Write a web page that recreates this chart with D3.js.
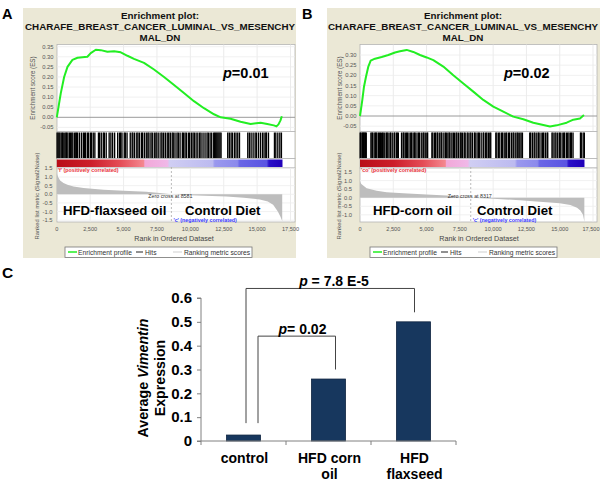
<!DOCTYPE html>
<html><head><meta charset="utf-8">
<script src="https://cdn.jsdelivr.net/npm/d3@7"></script>
<style>
body{margin:0;background:#fff}
svg{display:block}
text{font-family:"Liberation Sans",Arial,Helvetica,sans-serif}
</style>
</head><body>
<svg id="c" width="600" height="485"></svg>
<script>
// ---------------- DATA ----------------
const geneSetTitle = ["Enrichment plot:", "CHARAFE_BREAST_CANCER_LUMINAL_VS_MESENCHY", "MAL_DN"];
const rankTicks = [0, 2500, 5000, 7500, 10000, 12500, 15000, 17500];

// Panel A : HFD-flaxseed oil vs Control Diet
const esRankA = [0,175,300,550,800,1170,1550,1920,2290,2540,2920,3290,3790,4290,4790,5290,5780,6530,7280,8030,8780,9520,10270,11020,11770,12270,13010,13760,14510,15260,15760,16250,16450,16600,16750,16850];
const esValA  = [0,0.07,0.12,0.20,0.25,0.285,0.295,0.298,0.300,0.318,0.335,0.333,0.325,0.327,0.322,0.305,0.29,0.27,0.237,0.20,0.16,0.12,0.08,0.045,0.015,0.0,-0.007,-0.022,-0.033,-0.027,-0.033,-0.04,-0.045,-0.035,-0.015,0.005];
const hitsA = [20,90,160,230,330,420,480,600,680,740,830,950,1030,1120,1200,1330,1420,1480,1560,1700,1850,1990,2080,2160,2300,2380,2520,2600,2730,2850,3120,3200,3330,3480,3560,3700,3920,4050,4180,4330,4560,4700,4780,4880,5050,5130,5260,5500,5640,5700,5830,5990,6080,6200,6350,6420,6560,6700,6820,6900,7050,7150,7300,7420,7500,7640,7800,7880,8000,8130,8270,8380,8500,8640,8720,8850,9000,9100,9230,9400,9480,9600,9700,9850,9950,10080,10200,10300,10430,10560,10700,10800,10950,11100,11250,11350,11480,11600,11750,11820,11900,11980,12060,12140,12220,12300,12800,12920,13050,13150,13300,13420,13550,13680,14300,14420,14550,14700,14850,14950,15100,15250,15400,15520,15650,15700,15850,16300,16400,16550,16700,16820];
const metricRankA = [0,100,250,500,800,1250,2000,3500,5000,6700,7700,8581,10000,12700,14000,15200,15800,16200,16550,16750,16880];
const metricValA  = [1.2,1.0,0.8,0.65,0.55,0.45,0.36,0.26,0.2,0.15,0.07,0,-0.06,-0.13,-0.2,-0.3,-0.42,-0.6,-1.0,-1.3,-1.55];
const esTicksA = [-0.05,0,0.05,0.10,0.15,0.20,0.25,0.30,0.35];
const metricTicksA = [-1.5,-1.0,-0.5,0,0.5,1.0,1.5];
const genesA = 16900, zeroCrossA = 8581, pA = "0.01";

// Panel B : HFD-corn oil vs Control Diet
const esRankB = [0,175,300,450,626,801,1127,1628,2128,2629,3004,3505,4005,4506,5007,5507,6258,7009,7760,8511,9262,10013,10764,11515,12266,13017,13768,14269,14770,15521,16021,16522,16822];
const esValB  = [0,0.079,0.144,0.193,0.243,0.272,0.282,0.29,0.30,0.312,0.318,0.325,0.315,0.30,0.288,0.275,0.243,0.20,0.16,0.12,0.079,0.046,0.021,-0.003,-0.016,-0.033,-0.044,-0.052,-0.046,-0.033,-0.018,-0.012,0.005];
const hitsB = [10,60,150,200,260,300,360,410,470,820,900,940,1060,1150,1200,1260,1380,1450,1530,1600,1700,1740,1860,1980,2040,2110,2250,2300,2420,2560,2610,2740,2800,2880,3120,3240,3290,3400,3500,3560,3680,3810,3870,3990,4100,4140,4280,4400,4460,4600,4730,4790,4900,5020,5080,5400,5470,5600,5680,5800,5850,5990,6100,6150,6300,6420,6480,6600,6700,6760,6900,7010,7100,7220,7280,7400,7530,7600,7700,7830,7900,8050,8120,8260,8330,8450,8600,8650,8790,8900,8960,9100,9250,9300,9440,9520,9640,9750,9820,10200,10280,10410,10500,10640,10700,10830,10950,11020,11160,11240,11380,11500,11560,11700,11810,11880,12000,12100,12200,12750,12820,12950,13080,13140,13280,13400,13450,13600,13720,13790,13920,14050,14100,14420,14500,14640,14720,14850,14980,15040,15180,15300,15360,15500,15600,15700,15820,15880,16000,16560,16620,16760,16850];
const metricRankB = [0,100,500,1250,2000,3250,5000,6500,7500,8317,10000,12000,13750,15000,15800,16300,16550,16750,16850];
const metricValB  = [0.95,0.8,0.55,0.4,0.32,0.26,0.18,0.13,0.06,0,-0.06,-0.15,-0.25,-0.33,-0.42,-0.58,-0.75,-1.0,-1.4];
const esTicksB = [-0.05,0,0.05,0.10,0.15,0.20,0.25,0.30];
const metricTicksB = [-1.0,-0.5,0,0.5,1.0,1.5];
const genesB = 16860, zeroCrossB = 8317, pB = "0.02";

// Panel C : bar chart
const barCats = ["control", "HFD corn oil", "HFD flaxseed"];
const barLines = [["control"], ["HFD corn", "oil"], ["HFD", "flaxseed"]];
const barVals = [0.025, 0.26, 0.50];
const barTicks = [0, 0.1, 0.2, 0.3, 0.4, 0.5, 0.6];

// ---------------- DRAW ----------------
const svg = d3.select("#c");
const fmtES = d => (d < 0 ? "-" : "") + Math.abs(d).toFixed(2);
const fmtRM = d => (d < 0 ? "-" : "") + Math.abs(d).toFixed(1);

function drawGsea(o) {
  const g = svg.append("g");
  g.append("rect").attr("x", o.bg[0]).attr("y", o.bg[1]).attr("width", o.bg[2] - o.bg[0]).attr("height", o.bg[3] - o.bg[1]).attr("fill", "#ebe8d6");
  g.append("text").text(o.label).attr("x", o.labelX).attr("y", 18.5).attr("font-size", 14.5).attr("font-weight", "bold");
  const tY = [18.5, 30, 41];
  geneSetTitle.forEach((t, i) => {
    g.append("text").text(t).attr("x", o.titleX).attr("y", tY[i]).attr("text-anchor", "middle")
      .attr("font-size", 9.8).attr("font-weight", "bold").attr("fill", "#111");
  });

  const x = d3.scaleLinear().domain([0, 17500]).range([o.x0, o.x17500]);
  const yES = d3.scaleLinear().domain([0, o.esTopVal]).range([o.esZeroY, o.esTopValY]);
  const yRM = d3.scaleLinear().domain([0, 1.5]).range([o.rmZeroY, o.rmTopValY]);

  // ES panel
  g.append("rect").attr("x", o.px0).attr("y", o.esTop).attr("width", o.px1 - o.px0).attr("height", o.esBot - o.esTop).attr("fill", "#fff").attr("stroke", "#b5b5b5").attr("stroke-width", 0.8);
  rankTicks.slice(1).forEach(t => {
    g.append("line").attr("x1", x(t)).attr("x2", x(t)).attr("y1", o.esTop).attr("y2", o.esBot).attr("stroke", "#e6e6e6").attr("stroke-width", 0.8);
  });
  o.esTicks.forEach(t => {
    g.append("line").attr("x1", o.px0).attr("x2", o.px1).attr("y1", yES(t)).attr("y2", yES(t)).attr("stroke", t === 0 ? "#9a9a9a" : "#ececec").attr("stroke-width", t === 0 ? 1 : 0.8);
    g.append("text").text(fmtES(t)).attr("x", o.esLabR).attr("y", yES(t) + 2).attr("text-anchor", "end").attr("font-size", 5.8).attr("fill", "#555");
  });
  g.append("path").datum(o.esRank.map((r, i) => [r, o.esVal[i]]))
    .attr("d", d3.line().x(d => x(d[0])).y(d => yES(d[1])))
    .attr("fill", "none").attr("stroke", "#22ee22").attr("stroke-width", 2).attr("stroke-linejoin", "round");
  const pt = g.append("text").attr("x", o.pX).attr("y", 78).attr("font-size", 14.5).attr("font-weight", "bold");
  pt.append("tspan").text("p").attr("font-style", "italic");
  pt.append("tspan").text("=" + o.p);
  g.append("text").text("Enrichment score (ES)").attr("transform", `translate(${o.esTitleX},${(o.esTop + o.esBot) / 2}) rotate(-90)`)
    .attr("text-anchor", "middle").attr("font-size", 6.3).attr("fill", "#555");

  // Hits panel
  g.append("rect").attr("x", o.px0).attr("y", o.esBot).attr("width", o.px1 - o.px0).attr("height", o.hitsBot - o.esBot).attr("fill", "#fff").attr("stroke", "#b5b5b5").attr("stroke-width", 0.8);
  g.selectAll(null).data(o.hits).enter().append("line")
    .attr("x1", d => x(d)).attr("x2", d => x(d)).attr("y1", o.esBot + 1).attr("y2", o.hitsBot)
    .attr("stroke", "#000").attr("stroke-width", 1.35);

  // Colour bar
  g.append("rect").attr("x", o.px0).attr("y", o.hitsBot).attr("width", o.px1 - o.px0).attr("height", o.rmTop - o.hitsBot).attr("fill", "#fff").attr("stroke", "#b5b5b5").attr("stroke-width", 0.8);
  const gid = "grad" + o.label;
  const grad = svg.append("defs").append("linearGradient").attr("id", gid).attr("x1", 0).attr("x2", 1).attr("y1", 0).attr("y2", 0);
  o.stops.forEach(s => grad.append("stop").attr("offset", s[0]).attr("stop-color", s[1]));
  g.append("rect").attr("x", x(0)).attr("y", o.barTop).attr("width", x(o.genes) - x(0)).attr("height", o.barBot - o.barTop).attr("fill", `url(#${gid})`);

  // Ranked list metric panel
  g.append("rect").attr("x", o.px0).attr("y", o.rmTop).attr("width", o.px1 - o.px0).attr("height", o.rmBot - o.rmTop).attr("fill", "#fff").attr("stroke", "#b5b5b5").attr("stroke-width", 0.8);
  rankTicks.slice(1).forEach(t => {
    g.append("line").attr("x1", x(t)).attr("x2", x(t)).attr("y1", o.rmTop).attr("y2", o.rmBot).attr("stroke", "#e8e8e8").attr("stroke-width", 0.8);
  });
  o.metricTicks.forEach(t => {
    g.append("line").attr("x1", o.px0).attr("x2", o.px1).attr("y1", yRM(t)).attr("y2", yRM(t)).attr("stroke", "#eeeeee").attr("stroke-width", 0.8);
    g.append("text").text(fmtRM(t)).attr("x", o.rmLabR).attr("y", yRM(t) + 2).attr("text-anchor", "end").attr("font-size", 5.8).attr("fill", "#555");
  });
  g.append("path").datum(o.metricRank.map((r, i) => [r, o.metricVal[i]]))
    .attr("d", d3.area().x(d => x(d[0])).y0(yRM(0)).y1(d => yRM(d[1])))
    .attr("fill", "#bdbdbd");
  g.append("line").attr("x1", x(o.zeroCross)).attr("x2", x(o.zeroCross)).attr("y1", o.barBot).attr("y2", o.rmBot)
    .attr("stroke", "#aaa").attr("stroke-width", 0.8).attr("stroke-dasharray", "2,2");
  g.append("text").text(o.posLabel).attr("x", x(0) + 1).attr("y", 171.5).attr("font-size", 5.3).attr("fill", "#e8303a").attr("font-weight", "bold");
  g.append("text").text("Zero cross at " + o.zeroCross).attr("x", x(o.zeroCross) - 1).attr("y", 198).attr("text-anchor", "middle").attr("font-size", 5.3).attr("fill", "#333");
  g.append("text").text("'c' (negatively correlated)").attr("x", x(o.zeroCross) + 2).attr("y", 222).attr("font-size", 5.3).attr("fill", "#3a3aff").attr("font-weight", "bold");
  g.append("text").text(o.leftName).attr("x", o.leftNameX).attr("y", 215).attr("font-size", 13.2).attr("font-weight", "bold");
  g.append("text").text("Control Diet").attr("x", o.rightNameX).attr("y", 215).attr("font-size", 13.2).attr("font-weight", "bold");
  g.append("text").text("Ranked list metric (Signal2Noise)").attr("transform", `translate(${o.rmTitleX},196) rotate(-90)`)
    .attr("text-anchor", "middle").attr("font-size", 5.9).attr("fill", "#555");

  // X axis labels
  rankTicks.forEach((t, i) => {
    const last = i === rankTicks.length - 1 && o.clipLast;
    g.append("text").text(d3.format(",")(t)).attr("x", last ? 599.5 : x(t)).attr("y", 231)
      .attr("text-anchor", last ? "end" : "middle").attr("font-size", 5.6).attr("fill", "#555");
  });
  g.append("text").text("Rank in Ordered Dataset").attr("x", o.rankTitleX).attr("y", 240.5).attr("text-anchor", "middle").attr("font-size", 7.2).attr("fill", "#444");

  // Legend
  const lx = o.legendX, ly = 252;
  g.append("rect").attr("x", lx).attr("y", 247).attr("width", 187).attr("height", 10.5).attr("fill", "#fff").attr("stroke", "#777").attr("stroke-width", 0.8);
  g.append("line").attr("x1", lx + 3).attr("x2", lx + 12).attr("y1", ly).attr("y2", ly).attr("stroke", "#22ee22").attr("stroke-width", 1.5);
  g.append("text").text("Enrichment profile").attr("x", lx + 13).attr("y", ly + 2.5).attr("font-size", 6.7).attr("fill", "#333");
  g.append("line").attr("x1", lx + 71).attr("x2", lx + 78).attr("y1", ly).attr("y2", ly).attr("stroke", "#222").attr("stroke-width", 1);
  g.append("text").text("Hits").attr("x", lx + 80).attr("y", ly + 2.5).attr("font-size", 6.7).attr("fill", "#333");
  g.append("line").attr("x1", lx + 108).attr("x2", lx + 117).attr("y1", ly).attr("y2", ly).attr("stroke", "#cfcfcf").attr("stroke-width", 1);
  g.append("text").text("Ranking metric scores").attr("x", lx + 119).attr("y", ly + 2.5).attr("font-size", 6.7).attr("fill", "#333");
}

const stopsA = [[0,"#b80c18"],[0.15,"#cc1e2a"],[0.28,"#e44c56"],[0.385,"#f48890"],[0.39,"#f2a8d8"],[0.49,"#f0b8e8"],[0.5,"#d0cef3"],[0.69,"#bcbaf0"],[0.7,"#9a98ee"],[0.8,"#8c8aec"],[0.81,"#6a66e6"],[0.93,"#5a54e2"],[0.94,"#2a10c8"],[1,"#2000b8"]];
const stopsB = [[0,"#b80c18"],[0.15,"#cc1e2a"],[0.28,"#e44c56"],[0.38,"#f48890"],[0.385,"#f2a8d8"],[0.48,"#f0b8e8"],[0.49,"#d0cef3"],[0.69,"#bcbaf0"],[0.7,"#9a98ee"],[0.79,"#8c8aec"],[0.8,"#6a66e6"],[0.92,"#5a54e2"],[0.93,"#2a10c8"],[1,"#2000b8"]];

drawGsea({
  label: "A", labelX: 2, bg: [23, 8, 296, 258], titleX: 160,
  x0: 56.8, x17500: 290.5, px0: 57, px1: 295,
  esTop: 44.5, esBot: 131.5, esZeroY: 117.3, esTopVal: 0.35, esTopValY: 46.7, esLabR: 53.5, esTitleX: 35,
  esRank: esRankA, esVal: esValA, esTicks: esTicksA, p: pA, pX: 223,
  hits: hitsA, hitsBot: 158.5, barTop: 159.5, barBot: 167, genes: genesA, stops: stopsA,
  rmTop: 168, rmBot: 222, rmZeroY: 194.3, rmTopValY: 168.4, rmLabR: 52.5, rmTitleX: 38.5,
  metricRank: metricRankA, metricVal: metricValA, metricTicks: metricTicksA, zeroCross: zeroCrossA,
  posLabel: "'f' (positively correlated)", leftName: "HFD-flaxseed oil", leftNameX: 63, rightNameX: 185,
  rankTitleX: 174, legendX: 65, clipLast: false
});
drawGsea({
  label: "B", labelX: 302, bg: [327, 8, 600, 258], titleX: 463,
  x0: 360, x17500: 593, px0: 360, px1: 597,
  esTop: 44.5, esBot: 131.5, esZeroY: 116, esTopVal: 0.30, esTopValY: 55, esLabR: 356.5, esTitleX: 342,
  esRank: esRankB, esVal: esValB, esTicks: esTicksB, p: pB, pX: 504,
  hits: hitsB, hitsBot: 158.5, barTop: 159.5, barBot: 167, genes: genesB, stops: stopsB,
  rmTop: 168, rmBot: 222, rmZeroY: 197.7, rmTopValY: 172, rmLabR: 352, rmTitleX: 341,
  metricRank: metricRankB, metricVal: metricValB, metricTicks: metricTicksB, zeroCross: zeroCrossB,
  posLabel: "'co' (positively correlated)", leftName: "HFD-corn oil", leftNameX: 373, rightNameX: 477,
  rankTitleX: 479, legendX: 370, clipLast: true
});

// ---------------- Panel C ----------------
(function () {
  const g = svg.append("g");
  g.append("text").text("C").attr("x", 2).attr("y", 278).attr("font-size", 15.5).attr("font-weight", "bold");
  const x = d3.scaleBand().domain(barCats).range([201, 456]);
  const y = d3.scaleLinear().domain([0, 0.6]).range([441, 298]);
  const bw = 34, off = (x.bandwidth() - bw) / 2;

  g.selectAll(null).data(barVals).enter().append("rect")
    .attr("x", (d, i) => x(barCats[i]) + off).attr("width", bw)
    .attr("y", d => y(d)).attr("height", d => y(0) - y(d))
    .attr("fill", "#17375e").attr("stroke", "#0e2440").attr("stroke-width", 0.8);

  const ax = g.append("g").attr("transform", "translate(201,0)")
    .call(d3.axisLeft(y).tickValues(barTicks).tickSize(4).tickPadding(5).tickFormat(d => d === 0 ? "0" : d.toFixed(1)));
  ax.select(".domain").attr("stroke", "#808080").attr("d", "M-4,298H0V441H-4");
  ax.selectAll(".tick line").attr("stroke", "#808080");
  ax.selectAll(".tick text").attr("font-size", 15).attr("font-weight", "bold").attr("fill", "#000")
    .attr("font-family", '"Liberation Sans",Arial,sans-serif');

  g.append("line").attr("x1", 201).attr("x2", 456).attr("y1", y(0)).attr("y2", y(0)).attr("stroke", "#808080");
  const bounds = barCats.map(c => x(c)).concat([456]);
  bounds.forEach(b => g.append("line").attr("x1", b).attr("x2", b).attr("y1", y(0)).attr("y2", y(0) + 4).attr("stroke", "#808080"));

  barLines.forEach((ls, i) => {
    ls.forEach((l, j) => {
      g.append("text").text(l).attr("x", x(barCats[i]) + x.bandwidth() / 2 + 1).attr("y", 463 + j * 16)
        .attr("text-anchor", "middle").attr("font-size", 14).attr("font-weight", "bold");
    });
  });

  const yt = g.append("text").attr("transform", "translate(148,378) rotate(-90)").attr("text-anchor", "middle")
    .attr("font-size", 14.2).attr("font-weight", "bold");
  yt.append("tspan").text("Average ");
  yt.append("tspan").text("Vimentin").attr("font-style", "italic");
  g.append("text").text("Expression").attr("transform", "translate(165,378) rotate(-90)").attr("text-anchor", "middle")
    .attr("font-size", 14.2).attr("font-weight", "bold");

  // significance brackets
  const cx = i => x(barCats[i]) + x.bandwidth() / 2;
  const lc = "#444";
  const bracket = (xa, ya, xb, yb, top) => {
    g.append("path").attr("d", `M${xa},${y(ya)}V${y(top)}H${xb}V${y(yb)}`).attr("fill", "none").attr("stroke", lc).attr("stroke-width", 1);
  };
  bracket(cx(0) + 2.5, 0.075, cx(2) + 1, 0.54, 0.64);
  bracket(cx(0) + 14.5, 0.075, cx(1) + 7, 0.30, 0.44);
  const t1 = g.append("text").attr("x", 334).attr("y", 286).attr("text-anchor", "middle").attr("font-size", 14).attr("font-weight", "bold");
  t1.append("tspan").text("p").attr("font-style", "italic");
  t1.append("tspan").text(" = 7.8 E-5");
  const t2 = g.append("text").attr("x", 302.5).attr("y", 334).attr("text-anchor", "middle").attr("font-size", 14).attr("font-weight", "bold");
  t2.append("tspan").text("p").attr("font-style", "italic");
  t2.append("tspan").text("= 0.02");
})();
</script>
</body></html>
